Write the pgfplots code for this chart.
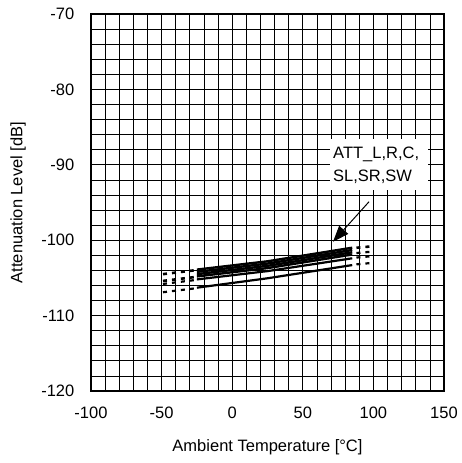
\documentclass[border=0pt]{standalone}
\usepackage{fontspec}
\setmainfont{Liberation Sans}
\usepackage{pgfplots}
\pgfplotsset{compat=1.18}
\usetikzlibrary{arrows.meta}

\begin{document}
\fontsize{16.5}{20}\selectfont
\begin{tikzpicture}
\useasboundingbox (-91pt,-72pt) rectangle (370pt,391pt);
\begin{axis}[
    at={(0pt,0pt)}, anchor=south west,
    scale only axis,
    width=353pt, height=377pt,
    xmin=-100, xmax=150, ymin=-120, ymax=-70,
    xtick={-100,-50,...,150}, ytick={-120,-110,...,-70},
    minor x tick num=4, minor y tick num=4,
    grid=both,
    major grid style={black, line width=1.1pt},
    minor grid style={black, line width=0.7pt},
    axis line style={line width=2pt},
    major tick length=0pt, minor tick length=0pt,
    /pgf/number format/assume math mode=true,
    /pgf/number format/.cd, 1000 sep={}, /pgfplots/.cd,
    xticklabel style={yshift=-10pt},
    yticklabel style={xshift=-11pt},
    xlabel={Ambient Temperature [°C]},
    ylabel={Attenuation Level [dB]},
    every axis x label/.style={at={(rel axis cs:0.5,0)}, anchor=center, yshift=-56pt},
    every axis y label/.style={at={(rel axis cs:0,0.5)}, xshift=-73pt, rotate=90, anchor=center},
]
% measured channels (solid)
\addplot[black, line width=2.4pt] coordinates {(-25,-103.9) (25,-102.8) (85,-101.0)};
\addplot[black, line width=2.4pt] coordinates {(-25,-104.2) (25,-103.1) (85,-101.3)};
\addplot[black, line width=2.4pt] coordinates {(-25,-104.5) (25,-103.4) (85,-101.6)};
\addplot[black, line width=2.4pt] coordinates {(-25,-104.8) (25,-103.7) (85,-101.9)};
\addplot[black, line width=2.2pt] coordinates {(-25,-105.2) (25,-104.1) (85,-102.4)};
\addplot[black, line width=2.2pt] coordinates {(-25,-106.3) (25,-105.05) (85,-103.3)};
% extrapolated ends (dashed)
\addplot[black, line width=2.6pt, dash pattern=on 4pt off 5pt] coordinates {(-49,-104.5) (-27,-104.0)};
\addplot[black, line width=2.6pt, dash pattern=on 4pt off 5pt] coordinates {(-49,-105.4) (-27,-104.9)};
\addplot[black, line width=2.2pt, dash pattern=on 4pt off 5pt] coordinates {(-49,-105.8) (-27,-105.3)};
\addplot[black, line width=2.2pt, dash pattern=on 4pt off 5pt] coordinates {(-49,-106.9) (-27,-106.4)};
\addplot[black, line width=2.6pt, dash pattern=on 4pt off 5pt] coordinates {(88,-101.0) (100,-100.8)};
\addplot[black, line width=2.2pt, dash pattern=on 4pt off 5pt] coordinates {(88,-101.7) (100,-101.5)};
\addplot[black, line width=2.2pt, dash pattern=on 4pt off 5pt] coordinates {(88,-102.3) (100,-102.1)};
\addplot[black, line width=2.2pt, dash pattern=on 4pt off 5pt] coordinates {(88,-103.2) (100,-103.0)};
% annotation
\fill[white] (axis cs:69.3,-86.6) rectangle (axis cs:138.7,-93.3);
\node[anchor=base west, inner sep=0pt] at (axis cs:71.4,-89.23) {ATT\_L,R,C,};
\node[anchor=base west, inner sep=0pt] at (axis cs:71.4,-92.24) {SL,SR,SW};
\draw[black, line width=1pt, -{Triangle[length=16pt, width=12pt]}] (axis cs:96.9,-94.9) -- (axis cs:71.4,-100.2);
\end{axis}
\end{tikzpicture}
\end{document}
